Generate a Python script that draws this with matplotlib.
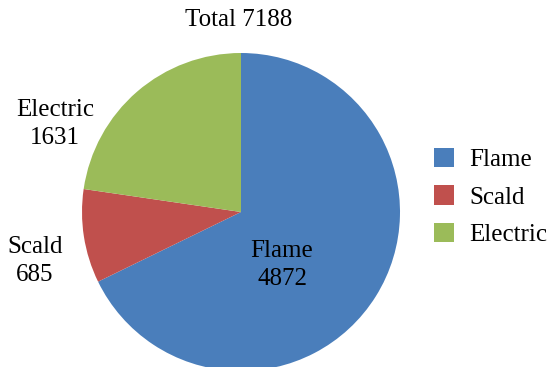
import matplotlib
matplotlib.use("Agg")
import matplotlib.pyplot as plt
from matplotlib.patches import Patch

# data
categories = ["Flame", "Scald", "Electric"]
counts = [4872, 685, 1631]
colors = ["#4A7EBB", "#C0504D", "#9BBB59"]

plt.rcParams["font.family"] = ["Liberation Serif", "DejaVu Serif"]

W, H = 548, 367
fig = plt.figure(figsize=(W / 100, H / 100), dpi=100)

# pie centre / radius in pixels
cx, cy, r = 241, 212, 159
ax = fig.add_axes([(cx - r) / W, (H - cy - r) / H, 2 * r / W, 2 * r / H])
ax.pie(counts, colors=colors, startangle=90, counterclock=False,
       wedgeprops=dict(linewidth=0), radius=1.0)
ax.set_xlim(-1, 1); ax.set_ylim(-1, 1)
ax.set_aspect("auto")
ax.axis("off")

def px(x, y):
    return (x - cx) / r, (cy - y) / r

fs = 18
label_pos = {"Flame": (282, 265), "Scald": (35, 261), "Electric": (55, 124)}
for name, n in zip(categories, counts):
    x, y = px(*label_pos[name])
    ax.text(x, y, f"{name}\n{n}", ha="center", va="center", fontsize=fs,
            linespacing=1.32, clip_on=False)

tx, ty = px(239, 20)
ax.text(tx, ty, f"Total {sum(counts)}", ha="center", va="center",
        fontsize=fs, clip_on=False)

handles = [Patch(facecolor=c, edgecolor="none") for c in colors]
fig.legend(handles, categories, loc="center left",
           bbox_to_anchor=(424 / W, 1 - 197 / H), frameon=False,
           borderaxespad=0, fontsize=fs, handlelength=0.8, handleheight=0.8,
           labelspacing=0.58, handletextpad=0.6)

fig.savefig("out.png", dpi=100)
